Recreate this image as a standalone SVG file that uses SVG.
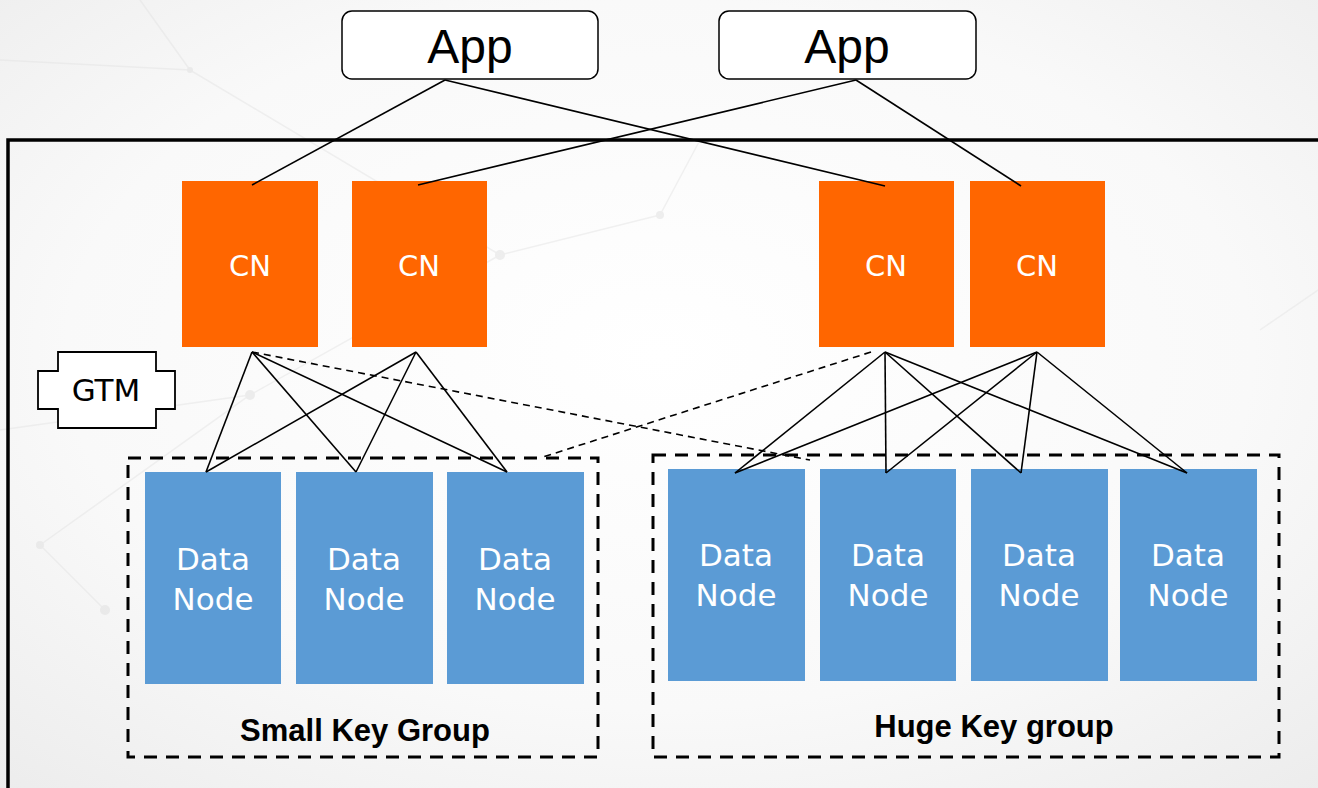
<svg xmlns="http://www.w3.org/2000/svg" width="1318" height="788" viewBox="0 0 1318 788">
<defs>
<radialGradient id="bg" cx="0.5" cy="0.45" r="0.75">
<stop offset="0" stop-color="#ffffff"/>
<stop offset="0.6" stop-color="#f9f9f9"/>
<stop offset="1" stop-color="#ececec"/>
</radialGradient>
<style>
.app{fill:#fff;stroke:#000;stroke-width:1.5}
.appt{font-family:"Liberation Sans",Arial,sans-serif;font-size:48px;fill:#000;text-anchor:middle}
.cn{fill:#ff6600}
.cnt{font-family:"DejaVu Sans",sans-serif;font-size:29px;fill:#fff;text-anchor:middle}
.dn{fill:#5b9bd5}
.dnt{font-family:"DejaVu Sans",sans-serif;font-size:31px;fill:#fff;text-anchor:middle}
.grp{fill:none;stroke:#000;stroke-width:3;stroke-dasharray:13 9}
.grpt{font-family:"Liberation Sans",Arial,sans-serif;font-size:31px;font-weight:bold;fill:#000;text-anchor:middle}
.ln{stroke:#000;stroke-width:1.6;fill:none}
.dash{stroke:#000;stroke-width:1.6;fill:none;stroke-dasharray:7 5}
.bgl{stroke:#e2e2e2;stroke-width:1.5;fill:none}
</style>
</defs>
<rect x="0" y="0" width="1318" height="788" fill="url(#bg)"/>
<g id="background-pattern" opacity="0.45">
<path class="bgl" d="M0 60 L190 70 L500 255 L660 215 M190 70 L140 0 M500 255 L250 395 L40 545 M40 545 L105 610 M660 215 L700 140 M1318 290 L1260 330 M0 430 L250 395"/>
<circle cx="500" cy="255" r="5" fill="#dcdcdc"/>
<circle cx="660" cy="215" r="4" fill="#dcdcdc"/>
<circle cx="250" cy="395" r="5" fill="#dcdcdc"/>
<circle cx="40" cy="545" r="4" fill="#dcdcdc"/>
<circle cx="105" cy="610" r="5" fill="#dcdcdc"/>
<circle cx="190" cy="70" r="3" fill="#dcdcdc"/>
</g>
<g id="frame">
<path d="M8 788 L8 140 L1320 140" fill="none" stroke="#000" stroke-width="3.5"/>
</g>
<g id="app1">
<rect class="app" x="342" y="11" width="256" height="68" rx="10"/>
<text class="appt" x="470" y="63">App</text>
</g>
<g id="app2">
<rect class="app" x="719" y="11" width="257" height="68" rx="10"/>
<text class="appt" x="847" y="63">App</text>
</g>
<g id="cn1"><rect class="cn" x="182" y="181" width="136" height="166"/><text class="cnt" x="250" y="276">CN</text></g>
<g id="cn2"><rect class="cn" x="352" y="181" width="135" height="166"/><text class="cnt" x="419" y="276">CN</text></g>
<g id="cn3"><rect class="cn" x="819" y="181" width="135" height="166"/><text class="cnt" x="886" y="276">CN</text></g>
<g id="cn4"><rect class="cn" x="970" y="181" width="135" height="166"/><text class="cnt" x="1037" y="276">CN</text></g>
<g id="gtm">
<polygon points="58,352 156,352 156,371 175,371 175,409 156,409 156,428 58,428 58,409 38,409 38,371 58,371" fill="#fff" stroke="#000" stroke-width="1.8"/>
<text x="106" y="401" font-family="DejaVu Sans, sans-serif" font-size="31" text-anchor="middle" fill="#000">GTM</text>
</g>
<g id="small-key-group">
<rect class="grp" x="128" y="458" width="470" height="299"/>
<text class="grpt" x="365" y="741">Small Key Group</text>
</g>
<g id="huge-key-group">
<rect class="grp" x="653" y="455" width="626" height="302"/>
<text class="grpt" x="994" y="737">Huge Key group</text>
</g>
<g id="dn1"><rect class="dn" x="145" y="472" width="136" height="212"/><text class="dnt" x="213" y="570">Data</text><text class="dnt" x="213" y="610">Node</text></g>
<g id="dn2"><rect class="dn" x="296" y="472" width="137" height="212"/><text class="dnt" x="364" y="570">Data</text><text class="dnt" x="364" y="610">Node</text></g>
<g id="dn3"><rect class="dn" x="447" y="472" width="137" height="212"/><text class="dnt" x="515" y="570">Data</text><text class="dnt" x="515" y="610">Node</text></g>
<g id="dn4"><rect class="dn" x="668" y="469" width="137" height="212"/><text class="dnt" x="736" y="566">Data</text><text class="dnt" x="736" y="606">Node</text></g>
<g id="dn5"><rect class="dn" x="820" y="469" width="136" height="212"/><text class="dnt" x="888" y="566">Data</text><text class="dnt" x="888" y="606">Node</text></g>
<g id="dn6"><rect class="dn" x="971" y="469" width="137" height="212"/><text class="dnt" x="1039" y="566">Data</text><text class="dnt" x="1039" y="606">Node</text></g>
<g id="dn7"><rect class="dn" x="1120" y="469" width="137" height="212"/><text class="dnt" x="1188" y="566">Data</text><text class="dnt" x="1188" y="606">Node</text></g>
<g id="connectors">
<line class="ln" x1="445" y1="80" x2="252" y2="185"/>
<line class="ln" x1="445" y1="80" x2="885" y2="186"/>
<line class="ln" x1="856" y1="80" x2="418" y2="185"/>
<line class="ln" x1="856" y1="80" x2="1021" y2="186"/>
<line class="ln" x1="252" y1="352" x2="206" y2="472"/>
<line class="ln" x1="252" y1="352" x2="356" y2="472"/>
<line class="ln" x1="252" y1="352" x2="507" y2="472"/>
<line class="ln" x1="416" y1="352" x2="206" y2="472"/>
<line class="ln" x1="416" y1="352" x2="356" y2="472"/>
<line class="ln" x1="416" y1="352" x2="507" y2="472"/>
<line class="ln" x1="885" y1="352" x2="735" y2="473"/>
<line class="ln" x1="885" y1="352" x2="886" y2="473"/>
<line class="ln" x1="885" y1="352" x2="1021" y2="473"/>
<line class="ln" x1="885" y1="352" x2="1187" y2="473"/>
<line class="ln" x1="1037" y1="352" x2="735" y2="473"/>
<line class="ln" x1="1037" y1="352" x2="886" y2="473"/>
<line class="ln" x1="1037" y1="352" x2="1021" y2="473"/>
<line class="ln" x1="1037" y1="352" x2="1187" y2="473"/>
<line class="dash" x1="252" y1="352" x2="810" y2="460"/>
<line class="dash" x1="871" y1="352" x2="543" y2="457"/>
</g>
</svg>
